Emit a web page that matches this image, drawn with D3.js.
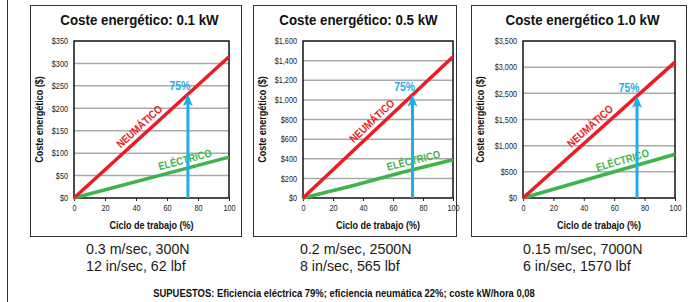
<!DOCTYPE html>
<html>
<head>
<meta charset="utf-8">
<script src="https://cdn.jsdelivr.net/npm/d3@7"></script>
<style>
  html, body { margin: 0; padding: 0; background: #fff; }
  svg { display: block; }
  text { font-family: "Liberation Sans", Arial, sans-serif; }
</style>
</head>
<body>
<div id="chart"></div>
<script>
// chart data
var titles = ["Coste energético: 0.1 kW", "Coste energético: 0.5 kW", "Coste energético 1.0 kW"];
var yMax = [350, 1600, 3500];
var yLabels1 = ["$0", "$50", "$100", "$150", "$200", "$250", "$300", "$350"];
var yLabels2 = ["$0", "$200", "$400", "$600", "$800", "$1,000", "$1,200", "$1,400", "$1,600"];
var yLabels3 = ["$0", "$500", "$1,000", "$1,500", "$2,500", "$3,000", "$3,500"];
var xTicks = [0, 20, 40, 60, 80, 100];
var neumatico1 = [[0, 0], [100, 315]];
var neumatico2 = [[0, 0], [100, 1440]];
var neumatico3 = [[0, 0], [100, 3030]];
var electrico1 = [[0, 0], [100, 91]];
var electrico2 = [[0, 0], [33, 125], [67, 265], [100, 390]];
var electrico3 = [[0, 0], [100, 975]];
var arrowAt = [73.5, 73, 75];
var arrowLabel = "75%";
var speedSI = ["0.3 m/sec, 300N", "0.2 m/sec, 2500N", "0.15 m/sec, 7000N"];
var speedImp = ["12 in/sec, 62 lbf", "8 in/sec, 565 lbf", "6 in/sec, 1570 lbf"];
var footnote = "SUPUESTOS: Eficiencia eléctrica 79%; eficiencia neumática 22%; coste kW/hora 0,08";

var W = 689, H = 302;
var RED = "#ec1c24", GREEN = "#3fb44a", BLUE = "#1eaeea";
var NARROW = 0.86; // the original type is a condensed face

// layout of each panel (box + plot area)
var layout = [
  {bx: 30, bw: 211, px0: 74, px1: 229, neuAt: 46, eleAt: 73, textX: 86},
  {bx: 253, bw: 203, px0: 303, px1: 453, neuAt: 50, eleAt: 75, textX: 300},
  {bx: 471, bw: 215, px0: 523, px1: 675, neuAt: 48, eleAt: 67, textX: 523}
];
var yTop = 41, yBot = 198, boxTop = 5, boxBot = 236;

var panels = [
  {title: titles[0], max: yMax[0], labels: yLabels1, neu: neumatico1, ele: electrico1, arrow: arrowAt[0]},
  {title: titles[1], max: yMax[1], labels: yLabels2, neu: neumatico2, ele: electrico2, arrow: arrowAt[1]},
  {title: titles[2], max: yMax[2], labels: yLabels3, neu: neumatico3, ele: electrico3, arrow: arrowAt[2]}
];

var svg = d3.select("#chart").append("svg").attr("width", W).attr("height", H);

// condensed text helper
function txt(parent, x, y, str, size, opts) {
  opts = opts || {};
  return parent.append("text")
    .attr("transform", "translate(" + x + "," + y + ")" + (opts.rot ? " rotate(" + opts.rot + ")" : "") +
      (opts.shift ? " translate(0," + opts.shift + ")" : "") + " scale(" + (opts.sx || NARROW) + ",1)")
    .attr("text-anchor", opts.anchor || "start")
    .attr("font-size", size)
    .attr("font-weight", opts.bold ? "bold" : null)
    .attr("fill", opts.color || "#111")
    .text(str);
}

// outer rule on the left
svg.append("line").attr("x1", 7.5).attr("x2", 7.5).attr("y1", 0).attr("y2", H)
  .attr("stroke", "#333").attr("stroke-width", 1);

panels.forEach(function(p, i) {
  var L = layout[i];
  var g = svg.append("g");

  g.append("rect").attr("x", L.bx + 0.5).attr("y", boxTop + 0.5)
    .attr("width", L.bw).attr("height", boxBot - boxTop)
    .attr("fill", "none").attr("stroke", "#333").attr("stroke-width", 1);

  txt(g, L.bx + L.bw / 2 + 4, 25, p.title, 15.5, {anchor: "middle", bold: true});

  var x = d3.scaleLinear().domain([0, 100]).range([L.px0, L.px1]);
  var y = d3.scaleLinear().domain([0, p.max]).range([yBot, yTop]);
  var n = p.labels.length;
  var tickVals = d3.range(n).map(function(k) { return p.max * k / (n - 1); });

  // gridlines
  g.selectAll(".grid").data(tickVals.slice(1, -1)).enter().append("line")
    .attr("x1", L.px0).attr("x2", L.px1)
    .attr("y1", function(d) { return y(d); }).attr("y2", function(d) { return y(d); })
    .attr("stroke", "#aaaaaa").attr("stroke-width", 1.5);

  // axes
  var yAxis = d3.axisLeft(y).tickValues(tickVals).tickSize(0).tickPadding(0)
    .tickFormat(function(d, k) { return p.labels[k]; });
  var ya = g.append("g").attr("transform", "translate(" + (L.px0 - 6) + ",0)").call(yAxis);
  ya.select(".domain").remove();
  ya.selectAll("text").attr("x", 0).attr("font-size", 8.5).attr("fill", "#222").attr("font-family", null)
    .attr("transform", "scale(" + NARROW + ",1)");

  var xAxis = d3.axisBottom(x).tickValues(xTicks).tickSize(3).tickPadding(4);
  var xa = g.append("g").attr("transform", "translate(0," + yBot + ")").call(xAxis);
  xa.select(".domain").remove();
  xa.selectAll("line").attr("stroke", "#222");
  xa.selectAll("text").attr("font-size", 8.5).attr("fill", "#222").attr("font-family", null)
    .attr("transform", "scale(" + NARROW + ",1)");

  // plot frame
  g.append("rect").attr("x", L.px0).attr("y", yTop)
    .attr("width", L.px1 - L.px0).attr("height", yBot - yTop)
    .attr("fill", "none").attr("stroke", "#111").attr("stroke-width", 1.5);

  // axis titles
  txt(g, L.bx + 13, (yTop + yBot) / 2, "Coste energético ($)", 10.5, {anchor: "middle", bold: true, rot: -90});
  txt(g, (L.px0 + L.px1) / 2, 229, "Ciclo de trabajo (%)", 10.5, {anchor: "middle", bold: true});

  var line = d3.line().x(function(d) { return x(d[0]); }).y(function(d) { return y(d[1]); });

  g.append("path").datum(p.ele).attr("d", line)
    .attr("fill", "none").attr("stroke", GREEN).attr("stroke-width", 3.5);
  g.append("path").datum(p.neu).attr("d", line)
    .attr("fill", "none").attr("stroke", RED).attr("stroke-width", 3.5);

  // value of a series at xv (linear between points)
  function at(series, xv) {
    var xs = series.map(function(d) { return d[0]; });
    var ys = series.map(function(d) { return d[1]; });
    return d3.scaleLinear().domain(xs).range(ys)(xv);
  }
  function label(series, xv, str, color) {
    var px = x(xv), py = y(at(series, xv));
    var dx = x(xv + 5) - px, dy = y(at(series, xv + 5)) - py;
    var ang = Math.atan2(dy, dx) * 180 / Math.PI;
    txt(g, px, py, str, 11, {anchor: "middle", bold: true, color: color, rot: ang, shift: -5});
  }
  label(p.neu, L.neuAt, "NEUMÁTICO", RED);
  label(p.ele, L.eleAt, "ELÉCTRICO", GREEN);

  // 75% arrow
  var ax = x(p.arrow), tip = y(at(p.neu, p.arrow));
  g.append("line").attr("x1", ax).attr("x2", ax).attr("y1", yBot).attr("y2", tip + 6)
    .attr("stroke", BLUE).attr("stroke-width", 3);
  g.append("path")
    .attr("d", "M" + ax + "," + tip + " L" + (ax + 5) + "," + (tip + 12) + " L" + ax + "," + (tip + 9) +
      " L" + (ax - 5) + "," + (tip + 12) + " Z")
    .attr("fill", BLUE);
  txt(g, ax - 8, tip - 4, arrowLabel, 12, {anchor: "middle", bold: true, color: BLUE});

  // conditions under the box
  txt(g, L.textX, 254, speedSI[i], 15, {color: "#1a1a1a", sx: 0.95});
  txt(g, L.textX, 271, speedImp[i], 15, {color: "#1a1a1a", sx: 0.95});
});

txt(svg, 344, 297, footnote, 11, {anchor: "middle", bold: true});
</script>
</body>
</html>
